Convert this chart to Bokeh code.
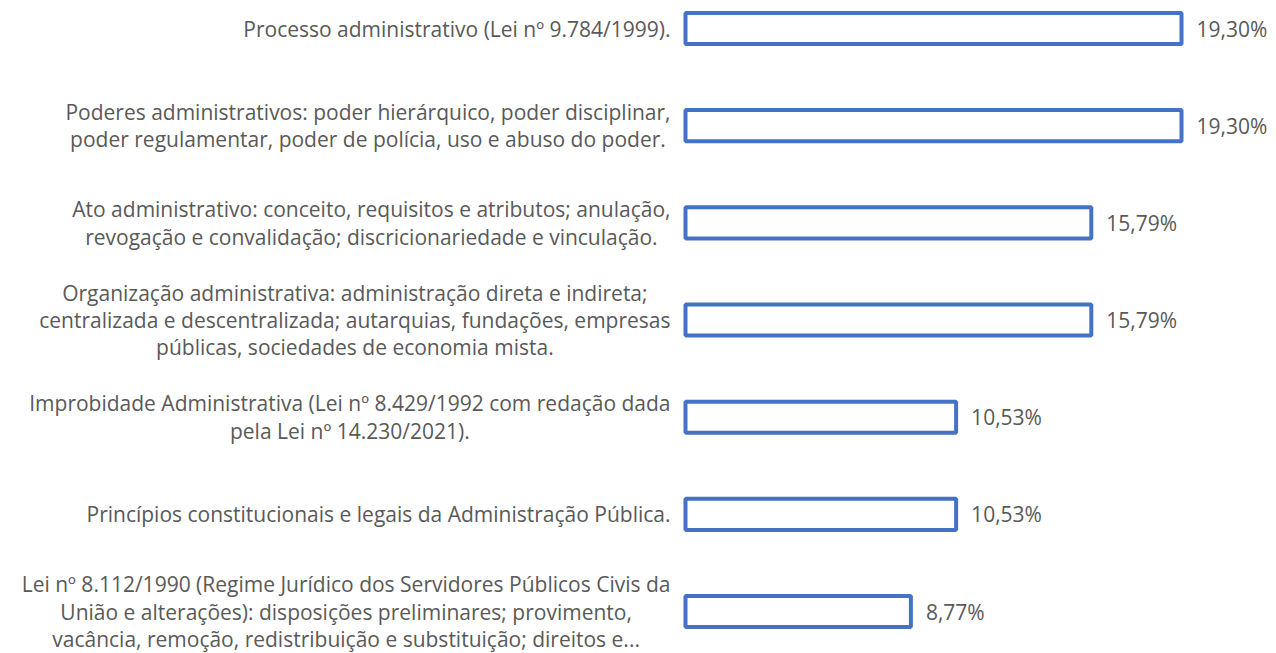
from bokeh.plotting import figure
from bokeh.models import ColumnDataSource, Range1d
from bokeh.core.properties import value
from bokeh.embed import file_html
from bokeh.resources import INLINE

categories = [
    "Processo administrativo (Lei nº 9.784/1999).",
    "Poderes administrativos: poder hierárquico, poder disciplinar,\npoder regulamentar, poder de polícia, uso e abuso do poder.",
    "Ato administrativo: conceito, requisitos e atributos; anulação,\nrevogação e convalidação; discricionariedade e vinculação.",
    "Organização administrativa: administração direta e indireta;\ncentralizada e descentralizada; autarquias, fundações, empresas\npúblicas, sociedades de economia mista.",
    "Improbidade Administrativa (Lei nº 8.429/1992 com redação dada\npela Lei nº 14.230/2021).",
    "Princípios constitucionais e legais da Administração Pública.",
    "Lei nº 8.112/1990 (Regime Jurídico dos Servidores Públicos Civis da\nUnião e alterações): disposições preliminares; provimento,\nvacância, remoção, redistribuição e substituição; direitos e...",
]
percentages = [19.30, 19.30, 15.79, 15.79, 10.53, 10.53, 8.77]
value_labels = [f"{v:.2f}%".replace(".", ",") for v in percentages]

n = len(categories)
ypos = [n - 1 - i for i in range(n)]

src = ColumnDataSource(dict(y=ypos, v=percentages, cat=categories,
                            lab=value_labels, zero=[0] * n))

W, H = 1276, 653
px_per_unit = 25.7
x0_px = 685
band = 97.17
first_center = 28

p = figure(width=W, height=H, output_backend="svg", toolbar_location=None,
           x_range=Range1d(-x0_px / px_per_unit, (W - x0_px) / px_per_unit),
           y_range=Range1d((n - 1) - (H - first_center) / band, (n - 1) + first_center / band),
           min_border=0, min_border_left=0, min_border_right=0,
           min_border_top=0, min_border_bottom=0)
p.axis.visible = False
p.grid.visible = False
p.outline_line_color = None
p.background_fill_color = "white"
p.border_fill_color = "white"

p.hbar(y="y", left="zero", right="v", height=0.32, source=src,
       fill_color="white", line_color="#4472C4", line_width=4)

font = value("Open Sans")
p.text(x="v", y="y", text="lab", source=src, x_offset=15,
       text_align="left", text_baseline="middle", text_font=font,
       text_font_size="21px", text_color="#595959")

p.text(x="zero", y="y", text="cat", source=src, x_offset=-15,
       anchor="center_right", text_align="center", text_baseline="middle",
       text_font=font, text_font_size="21px", text_color="#595959",
       text_line_height=0.98)

open("out.html", "w").write(file_html(p, INLINE))
